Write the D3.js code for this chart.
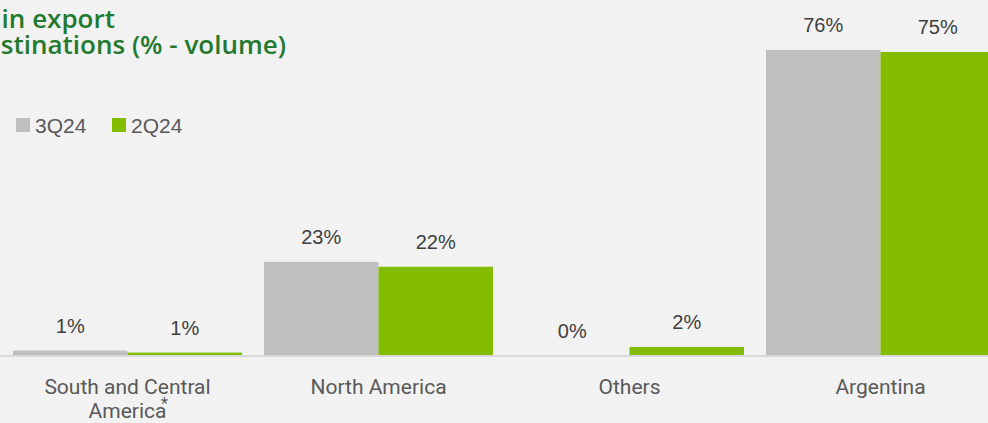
<!DOCTYPE html>
<html>
<head>
<meta charset="utf-8">
<script src="https://cdn.jsdelivr.net/npm/d3@7"></script>
<style>
  html, body { margin: 0; padding: 0; background: #f2f2f2; overflow: hidden; }
  svg { display: block; }
</style>
</head>
<body>
<div class="svg"></div>
<script>
var categories = ['South and Central America', 'North America', 'Others', 'Argentina'];
var series = ['3Q24', '2Q24'];
var values3Q24 = [1.1, 23.1, 0.0, 75.7];
var values2Q24 = [0.6, 21.9, 2.0, 75.2];
var labels3Q24 = ['1%', '23%', '0%', '76%'];
var labels2Q24 = ['1%', '22%', '2%', '75%'];

var width = 988,
    height = 423;
var baseY = 355;
var colors = { '3Q24': '#bfbfbf', '2Q24': '#84bd00' };

var svg = d3.select('div.svg')
    .append('svg')
    .attr('width', width)
    .attr('height', height)

svg.append('rect')
    .attr('width', width)
    .attr('height', height)
    .attr('fill', '#f2f2f2')

var x = d3.scaleBand()
    .domain(categories)
    .range([2, 1006])
    .paddingInner(0.0876)
    .paddingOuter(0.0438)

var xs = d3.scaleBand()
    .domain(series)
    .range([0, x.bandwidth()])

var y = d3.scaleLinear()
    .domain([0, 100])
    .range([baseY, baseY - 403])

var rows = categories.map(function (c, i) {
    return [
        { cat: c, s: '3Q24', v: values3Q24[i], label: labels3Q24[i] },
        { cat: c, s: '2Q24', v: values2Q24[i], label: labels2Q24[i] }
    ];
});

var groups = svg.selectAll('.grp')
    .data(rows)
    .enter()
    .append('g')
    .attr('class', 'grp')
    .attr('transform', d => 'translate(' + x(d[0].cat) + ',0)')

groups.selectAll('rect')
    .data(d => d)
    .enter()
    .append('rect')
    .attr('x', d => xs(d.s))
    .attr('y', d => y(d.v))
    .attr('width', xs.bandwidth())
    .attr('height', d => baseY - y(d.v))
    .attr('fill', d => colors[d.s])

groups.selectAll('text')
    .data(d => d)
    .enter()
    .append('text')
    .attr('x', d => xs(d.s) + xs.bandwidth() / 2)
    .attr('y', d => y(d.v) - 17.5)
    .attr('text-anchor', 'middle')
    .attr('font-family', 'Liberation Sans, Arial, sans-serif')
    .attr('font-size', 20)
    .attr('fill', '#404040')
    .text(d => d.label)

// axis line
svg.append('line')
    .attr('x1', 0)
    .attr('x2', width)
    .attr('y1', baseY + 1)
    .attr('y2', baseY + 1)
    .attr('stroke', '#d9d9d9')
    .attr('stroke-width', 2)

// category labels
var catText = svg.selectAll('.cat')
    .data(categories)
    .enter()
    .append('text')
    .attr('class', 'cat')
    .attr('x', d => x(d) + x.bandwidth() / 2)
    .attr('y', 394)
    .attr('text-anchor', 'middle')
    .attr('font-family', 'Roboto, Noto Sans, sans-serif')
    .attr('font-size', 21)
    .attr('fill', '#595959')

catText.each(function (d) {
    var t = d3.select(this);
    if (d === 'South and Central America') {
        t.append('tspan').attr('x', x(d) + x.bandwidth() / 2).attr('dy', 0).text('South and Central');
        t.append('tspan').attr('x', x(d) + x.bandwidth() / 2).attr('dy', 24).text('America');
    } else {
        t.text(d);
    }
})

// asterisk
svg.append('text')
    .attr('x', x(categories[0]) + x.bandwidth() / 2 + 37)
    .attr('y', 409)
    .attr('text-anchor', 'middle')
    .attr('font-family', 'Roboto, Noto Sans, sans-serif')
    .attr('font-size', 16)
    .attr('fill', '#595959')
    .text('*')

// title (cut off on the left, as in the slide)
var title = svg.append('text')
    .attr('font-family', 'Open Sans, Noto Sans, sans-serif')
    .attr('font-weight', 600)
    .attr('font-size', 26)
    .attr('fill', '#237a2e')
    .attr('text-anchor', 'end')
title.append('tspan').attr('x', 115).attr('y', 28).text('Main export')
title.append('tspan').attr('x', 286).attr('y', 54).text('destinations (% - volume)')

// legend
var legend = svg.selectAll('.leg')
    .data(series)
    .enter()
    .append('g')
    .attr('class', 'leg')
    .attr('transform', (d, i) => 'translate(' + (16 + i * 96) + ',118)')

legend.append('rect')
    .attr('width', 14)
    .attr('height', 14)
    .attr('fill', d => colors[d])

legend.append('text')
    .attr('x', 19)
    .attr('y', 14.5)
    .attr('font-family', 'Liberation Sans, Arial, sans-serif')
    .attr('font-size', 21)
    .attr('fill', '#595959')
    .text(d => d)
</script>
</body>
</html>
